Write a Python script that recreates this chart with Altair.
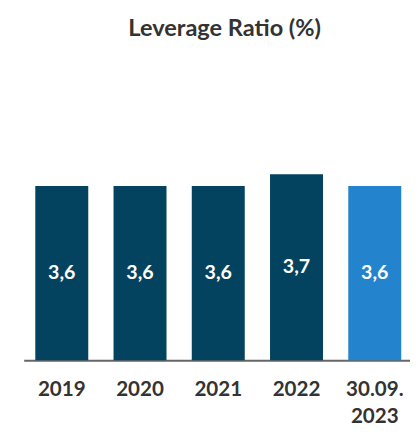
import altair as alt
import pandas as pd

title_text = "Leverage Ratio (%)"
periods = ["2019", "2020", "2021", "2022", "30.09. 2023"]
values = [3.6, 3.6, 3.6, 3.7, 3.6]
value_labels = ["3,6", "3,6", "3,6", "3,7", "3,6"]
highlight = "30.09. 2023"

y_min, y_max = 2.12, 4.62
DARK = "#03435F"
LIGHT = "#2383CC"
FONT = "Lato"

df = pd.DataFrame({"period": periods, "value": values, "label": value_labels})

x_enc = alt.X(
    "period:N",
    sort=periods,
    scale=alt.Scale(paddingInner=0.323, paddingOuter=0.13, align=0.57),
    axis=alt.Axis(
        title=None,
        ticks=False,
        domainColor="#666666",
        domainWidth=2,
        labelAngle=0,
        labelFont=FONT,
        labelFontSize=21,
        labelFontWeight="bold",
        labelColor="#333333",
        labelPadding=19,
        labelLineHeight=28,
        labelExpr="split(datum.value, ' ')",
    ),
)

y_scale = alt.Scale(domain=[y_min, y_max], zero=False, nice=False, clamp=True)

base = alt.Chart(df)

bars = base.mark_bar().encode(
    x=x_enc,
    y=alt.Y("value:Q", scale=y_scale, axis=None),
    y2=alt.datum(y_min),
    color=alt.condition(alt.datum.period == highlight, alt.value(LIGHT), alt.value(DARK)),
)

labels = base.transform_calculate(
    mid=f"(datum.value + {y_min}) / 2"
).mark_text(
    font=FONT, fontSize=20, fontWeight="bold", color="white", baseline="middle"
).encode(
    x=alt.X("period:N", sort=periods),
    y=alt.Y("mid:Q", scale=y_scale, axis=None),
    text="label:N",
)

title = alt.Chart(pd.DataFrame({"t": [title_text]})).mark_text(
    font=FONT, fontSize=24, fontWeight="bold", color="#333333",
    baseline="alphabetic", align="center",
).encode(
    x=alt.value(205),
    y=alt.value(-31),
    text="t:N",
)

chart = alt.layer(bars, labels, title).properties(
    width=394,
    height=300,
    padding={"left": 16, "top": 55, "right": 0, "bottom": 64},
    autosize=alt.AutoSizeParams(type="none"),
).configure_view(stroke=None)

chart.save("out.html", embed_options={"renderer": "svg", "actions": False})
